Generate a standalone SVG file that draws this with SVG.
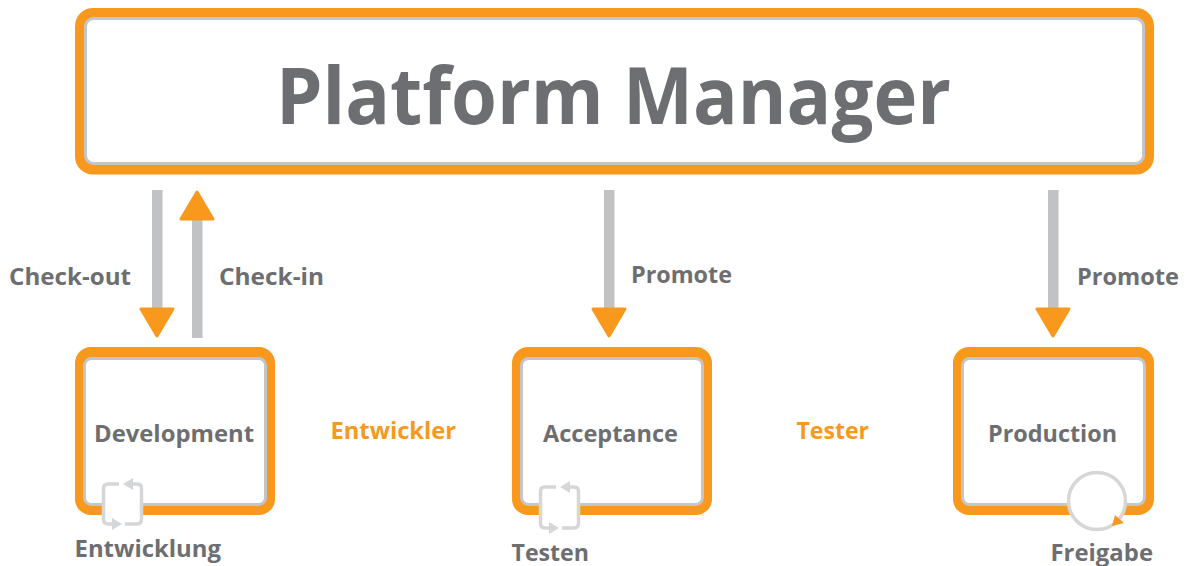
<svg xmlns="http://www.w3.org/2000/svg" width="1188" height="566" viewBox="0 0 1188 566">
<style>
text{font-family:"Open Sans","Noto Sans","Liberation Sans",sans-serif;font-weight:700;fill:#6d6e71}
.o{fill:#f8981d}.i{fill:#fff;stroke:#c4c5c7;stroke-width:3}
.s{fill:#c1c2c4}.h{fill:#f8981d;stroke:#f8981d;stroke-width:3;stroke-linejoin:round}
.l{font-size:24px}.a{fill:#f8981d!important}
.c{fill:#fff;stroke:none}.p{fill:none;stroke:#d5d6d7;stroke-width:3.5}.t{fill:#d5d6d7}
</style>
<g id="platform-manager"><rect class="o" x="75" y="8" width="1079" height="166.500" rx="18"/><rect class="i" x="85.500" y="18.500" width="1058" height="145" rx="8"/><text x="613.500" y="124" font-size="79" text-anchor="middle" textLength="675" lengthAdjust="spacingAndGlyphs">Platform Manager</text></g>
<g id="connectors">
<rect class="s" x="152" y="190" width="10.500" height="120"/><path class="h" d="M141 309H173L157 336Z"/>
<rect class="s" x="192" y="218" width="10.500" height="120"/><path class="h" d="M181 219H213L197 192Z"/>
<rect class="s" x="604" y="190" width="10.500" height="120"/><path class="h" d="M593 309H625L609 336Z"/>
<rect class="s" x="1048" y="190" width="10.500" height="120"/><path class="h" d="M1037 309H1069L1053 336Z"/>
</g>
<g id="labels">
<text class="l" x="9" y="285" textLength="122" lengthAdjust="spacingAndGlyphs">Check-out</text>
<text class="l" x="219" y="285" textLength="105" lengthAdjust="spacingAndGlyphs">Check-in</text>
<text class="l" x="631" y="283" textLength="101" lengthAdjust="spacingAndGlyphs">Promote</text>
<text class="l" x="1077" y="285" textLength="102" lengthAdjust="spacingAndGlyphs">Promote</text>
<text class="l a" x="330.500" y="439" textLength="125.500" lengthAdjust="spacingAndGlyphs">Entwickler</text>
<text class="l a" x="796.500" y="439" textLength="72.500" lengthAdjust="spacingAndGlyphs">Tester</text>
</g>
<g id="development"><rect class="o" x="75" y="347" width="200" height="168" rx="16"/><rect class="i" x="84.500" y="358.500" width="181" height="146" rx="7"/><text class="l" x="94" y="442" textLength="160" lengthAdjust="spacingAndGlyphs">Development</text></g>
<g id="acceptance"><rect class="o" x="512" y="347" width="200" height="168" rx="16"/><rect class="i" x="521.500" y="358.500" width="181" height="146" rx="7"/><text class="l" x="543" y="442" textLength="135" lengthAdjust="spacingAndGlyphs">Acceptance</text></g>
<g id="production"><rect class="o" x="953" y="347" width="201" height="168" rx="16"/><rect class="i" x="962.500" y="358.500" width="182" height="146" rx="7"/><text class="l" x="988" y="442" textLength="129" lengthAdjust="spacingAndGlyphs">Production</text></g>
<g id="entwicklung"><rect class="c" x="103" y="484" width="39" height="40" rx="5"/>
<path class="p" d="M119 484H108Q103.500 484 103.500 488.500V519Q103.500 524 108 524H112M125 524H137Q141.500 524 141.500 519V488.500Q141.500 484 137 484H133"/>
<path class="t" d="M133 478V490L123 484ZM112 518V530L122 524Z"/>
<text class="l" x="74.500" y="557" textLength="146.500" lengthAdjust="spacingAndGlyphs">Entwicklung</text></g>
<g id="testen"><rect class="c" x="540" y="487" width="39" height="41" rx="5"/>
<path class="p" d="M556 487H545Q540.500 487 540.500 491.500V523Q540.500 528 545 528H549M562 528H574Q578.500 528 578.500 523V491.500Q578.500 487 574 487H570"/>
<path class="t" d="M570 481V493L560 487ZM549 522V534L559 528Z"/>
<text class="l" x="511.500" y="561" textLength="77.500" lengthAdjust="spacingAndGlyphs">Testen</text></g>
<g id="freigabe"><circle cx="1097" cy="501" r="28.500" fill="#fff" stroke="#d5d6d7" stroke-width="3.500"/>
<path class="o" d="M1115 515L1124 523L1112 526Z"/>
<text class="l" x="1050.500" y="561" textLength="102.500" lengthAdjust="spacingAndGlyphs">Freigabe</text></g>
</svg>
